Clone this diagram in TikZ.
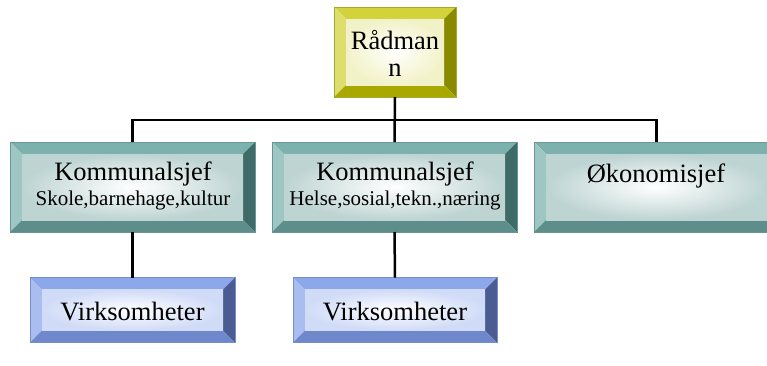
\documentclass[tikz,border=0pt]{standalone}
\usepackage{fontspec}
\setmainfont{Liberation Serif}
\definecolor{yTop}{HTML}{D2D23A}
\definecolor{yLeft}{HTML}{DEDE6E}
\definecolor{yRight}{HTML}{8A8A00}
\definecolor{yBot}{HTML}{A8A800}
\definecolor{yFace}{HTML}{F2F2C8}
\definecolor{tTop}{HTML}{7DB1AE}
\definecolor{tLeft}{HTML}{9EC6C3}
\definecolor{tRight}{HTML}{3E6B68}
\definecolor{tBot}{HTML}{5E8E8B}
\definecolor{tFace}{HTML}{BDD4D2}
\definecolor{bTop}{HTML}{8CA8EA}
\definecolor{bLeft}{HTML}{A9BDF0}
\definecolor{bRight}{HTML}{4A5C92}
\definecolor{bBot}{HTML}{6F88CC}
\definecolor{bFace}{HTML}{D0DBF7}
\tikzset{
  bevelbox/.style args={#1/#2/#3/#4/#5}{
    rectangle, inner sep=0pt, outer sep=0pt,
    path picture={
      \fill[#1] (path picture bounding box.north west) -- (path picture bounding box.north east)
        -- ++(-12pt,-12pt) -- ([xshift=12pt,yshift=-12pt]path picture bounding box.north west) -- cycle;
      \fill[#2] (path picture bounding box.north west) -- (path picture bounding box.south west)
        -- ++(12pt,12pt) -- ([xshift=12pt,yshift=-12pt]path picture bounding box.north west) -- cycle;
      \fill[#3] (path picture bounding box.north east) -- (path picture bounding box.south east)
        -- ++(-12pt,12pt) -- ([xshift=-12pt,yshift=-12pt]path picture bounding box.north east) -- cycle;
      \fill[#4] (path picture bounding box.south west) -- (path picture bounding box.south east)
        -- ++(-12pt,12pt) -- ([xshift=12pt,yshift=12pt]path picture bounding box.south west) -- cycle;
      \shade[inner color=white, outer color=#5]
        ([xshift=12pt,yshift=12pt]path picture bounding box.south west)
        rectangle ([xshift=-12pt,yshift=-12pt]path picture bounding box.north east);
    }
  },
  yelbox/.style={bevelbox=yTop/yLeft/yRight/yBot/yFace, draw=yTop!80!black, line width=0.6pt},
  tealbox/.style={bevelbox=tTop/tLeft/tRight/tBot/tFace, draw=tTop!85!black, line width=0.6pt},
  bluebox/.style={bevelbox=bTop/bLeft/bRight/bBot/bFace, draw=bTop!85!black, line width=0.6pt},
  big/.style={anchor=base, inner sep=0pt, font=\fontsize{26.5}{27}\selectfont},
  small/.style={anchor=base, inner sep=0pt, font=\fontsize{21}{22}\selectfont},
  conn/.style={line width=2.5pt, black}
}
\begin{document}
\begin{tikzpicture}[x=1pt, y=-1pt]
\useasboundingbox (0,0) rectangle (767,365);
\clip (0,0) rectangle (767,365);
% boxes
\node[yelbox, minimum width=122pt, minimum height=90pt] (r) at (395,52) {};
\node[tealbox, minimum width=245pt, minimum height=90pt] (k1) at (132.5,187) {};
\node[tealbox, minimum width=245pt, minimum height=90pt] (k2) at (394.5,187) {};
\node[tealbox, minimum width=245pt, minimum height=90pt] (k3) at (656.5,187) {};
\node[bluebox, minimum width=205pt, minimum height=65pt] (v1) at (132.5,310) {};
\node[bluebox, minimum width=204pt, minimum height=65pt] (v2) at (395,310) {};
% texts
\node[big] (rt1) at (395,49) {Rådman};
\node[big] (rt2) at (395,76) {n};
\node[big] (k1t1) at (133,180) {Kommunalsjef};
\node[small] (k1t2) at (133,205) {Skole,barnehage,kultur};
\node[big] (k2t1) at (395,180) {Kommunalsjef};
\node[small] (k2t2) at (395,205) {Helse,sosial,tekn.,næring};
\node[big] (k3t) at (656,182) {Økonomisjef};
\node[big] (v1t) at (132.5,320) {Virksomheter};
\node[big] (v2t) at (395,320) {Virksomheter};
% connectors
\coordinate (bus) at (395,120);
\draw[conn] (r.south) -- (k2.north);
\draw[conn] (k1.north) |- (bus) -| (k3.north);
\draw[conn] (k1.south) -- (v1.north);
\draw[conn] (k2.south) -- (v2.north);
\end{tikzpicture}
\end{document}
